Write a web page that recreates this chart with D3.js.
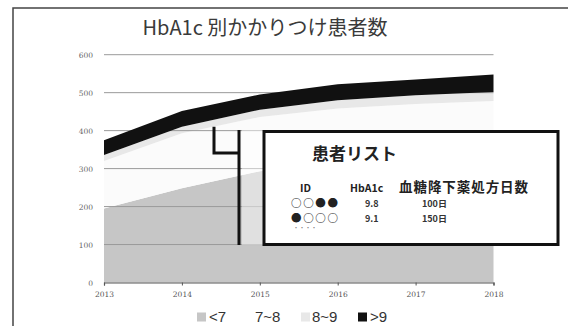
<!DOCTYPE html>
<html><head><meta charset="utf-8">
<script src="https://cdn.jsdelivr.net/npm/d3@7"></script>
<style>
html,body{margin:0;padding:0;background:#fff;}
svg{display:block;font-family:"Noto Sans CJK JP","Noto Sans",sans-serif;}
</style></head>
<body>
<script>
const years = [2013, 2014, 2015, 2016, 2017, 2018];
const yearLabels = ["2013", "2014", "2015", "2016", "2017", "2018"];
const seriesNames = ["<7", "7~8", "8~9", ">9"];
const lt7 = [195, 248, 293, 315, 328, 338];
const s7to8 = [125, 145, 143, 143, 142, 140];
const s8to9 = [16, 17, 19, 22, 23, 24];
const gt9 = [39, 42, 40, 42, 42, 46];
const yTicks = [0, 100, 200, 300, 400, 500, 600];
const seriesColors = ["#c6c6c6", "#fbfbfb", "#e8e8e8", "#111111"];
const legendLabels = ["<7", "7~8", "8~9", ">9"];
const legendColors = ["#c6c6c6", "#ffffff", "#e8e8e8", "#111111"];
const panelTitle = "患者リスト";
const panelHeader = ["ID", "HbA1c", "血糖降下薬処方日数"];
const panelIds = ["○○●●", "●○○○"];
const panelHbA1c = ["9.8", "9.1"];
const panelDays = ["100日", "150日"];

const W = 568, H = 326;
const svg = d3.select("body").append("svg").attr("width", W).attr("height", H);

svg.append("rect").attr("x", 13).attr("y", 8).attr("width", 600).attr("height", 400)
  .attr("fill", "#fff").attr("stroke", "#444").attr("stroke-width", 1.5);

svg.append("text").attr("x", 265).attr("y", 35).attr("text-anchor", "middle")
  .attr("font-size", 20).attr("fill", "#3a3a3a").text("HbA1c 別かかりつけ患者数");

const x = d3.scaleLinear().domain([2013, 2018]).range([104, 493.5]);
const y = d3.scaleLinear().domain([0, 600]).range([282.5, 54.7]);

const rows = years.map((yr, i) => ({year: yr, "<7": lt7[i], "7~8": s7to8[i], "8~9": s8to9[i], ">9": gt9[i]}));
const stack = d3.stack().keys(seriesNames)(rows);
const area = d3.area().x(d => x(d.data.year)).y0(d => y(d[0])).y1(d => y(d[1]));

const g = svg.append("g");
stack.slice(0, 3).forEach((s, i) => {
  g.append("path").attr("d", area(s)).attr("fill", seriesColors[i]);
});
yTicks.forEach(t => {
  if (t === 0) return;
  g.append("line").attr("x1", x(2013)).attr("x2", x(2018))
    .attr("y1", y(t)).attr("y2", y(t)).attr("stroke", "#9a9a9a").attr("stroke-width", 1);
});
g.append("path").attr("d", area(stack[3])).attr("fill", seriesColors[3]);

yTicks.forEach(t => {
  g.append("text").attr("x", 93).attr("y", y(t) + 3).attr("text-anchor", "end")
    .attr("font-size", 7.5).attr("fill", "#666").attr("font-family", "DejaVu Serif, serif").text(t);
});

const xAxis = d3.axisBottom(x).tickValues(years).tickFormat((d, i) => yearLabels[i]).tickSize(3);
const ax = svg.append("g").attr("transform", `translate(0,${y(0)})`).call(xAxis);
ax.select(".domain").attr("stroke", "#555").attr("stroke-width", 1.2);
ax.selectAll(".tick line").attr("stroke", "#555");
ax.selectAll(".tick text").attr("font-size", 7.5).attr("fill", "#555").attr("dy", "1.1em")
  .attr("font-family", "DejaVu Serif, serif");

svg.append("rect").attr("x", 242).attr("y", 130).attr("width", 22).attr("height", 115)
  .attr("fill", "#fff").attr("opacity", 0.45);

svg.append("path")
  .attr("d", `M214,${y(410)} L214,153 L239,153`)
  .attr("fill", "none").attr("stroke", "#111").attr("stroke-width", 3);
svg.append("line").attr("x1", 239).attr("x2", 239).attr("y1", 130).attr("y2", 245)
  .attr("stroke", "#111").attr("stroke-width", 3);

svg.append("rect").attr("x", 264).attr("y", 131.5).attr("width", 294).attr("height", 113)
  .attr("fill", "#fff").attr("stroke", "#111").attr("stroke-width", 3);
svg.append("text").attr("x", 312).attr("y", 160).attr("font-size", 17).attr("font-weight", "bold")
  .attr("fill", "#222").text(panelTitle);
svg.append("text").attr("x", 300).attr("y", 192).attr("font-size", 10.5).attr("font-weight", "bold")
  .attr("fill", "#222").text(panelHeader[0]);
svg.append("text").attr("x", 350).attr("y", 192).attr("font-size", 10.5).attr("font-weight", "bold")
  .attr("fill", "#222").text(panelHeader[1]);
svg.append("text").attr("x", 399).attr("y", 192).attr("font-size", 13.5).attr("font-weight", "bold")
  .attr("fill", "#222").attr("textLength", 129).text(panelHeader[2]);
panelIds.forEach((id, i) => {
  const yy = 206.5 + i * 15;
  svg.append("text").attr("x", 291).attr("y", yy).attr("font-size", 10.5).attr("font-weight", "bold")
    .attr("fill", "#222").attr("textLength", 47).text(id);
  svg.append("text").attr("x", 365).attr("y", yy).attr("font-size", 9).attr("font-weight", "bold")
    .attr("fill", "#333").text(panelHbA1c[i]);
  svg.append("text").attr("x", 422).attr("y", yy).attr("font-size", 9).attr("font-weight", "bold")
    .attr("fill", "#333").text(panelDays[i]);
});
svg.append("text").attr("x", 293).attr("y", 230).attr("font-size", 6).attr("fill", "#777").text("・・・・");

const legMarkX = [197, 244, 301, 358];
const legTextX = [209, 255, 312, 370];
legendLabels.forEach((lab, i) => {
  svg.append("rect").attr("x", legMarkX[i]).attr("y", 312.5).attr("width", 9).attr("height", 9)
    .attr("fill", legendColors[i]);
  svg.append("text").attr("x", legTextX[i]).attr("y", 322).attr("font-size", 15)
    .attr("font-family", "Liberation Sans, Arial, sans-serif")
    .attr("fill", "#333").text(lab);
});
</script>
</body></html>
